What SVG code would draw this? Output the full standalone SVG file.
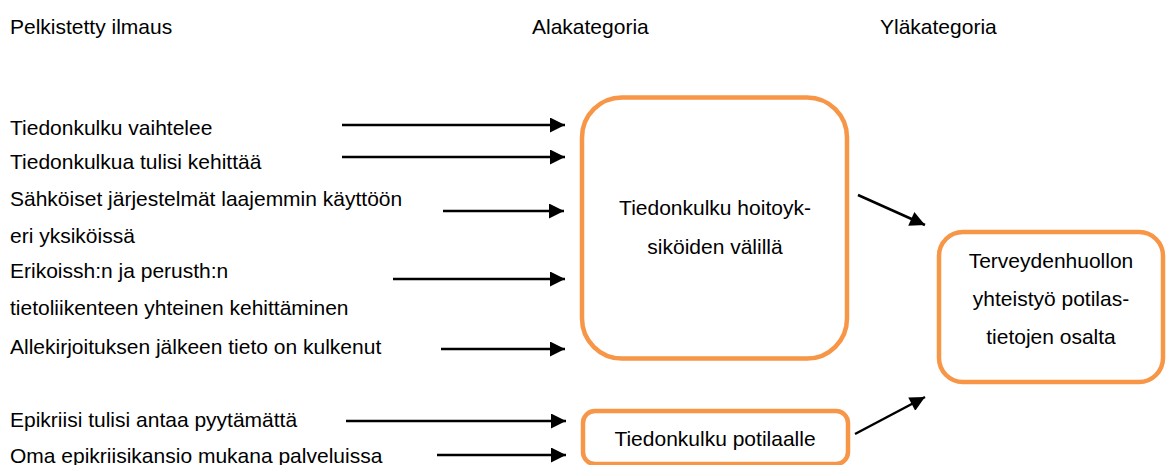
<svg xmlns="http://www.w3.org/2000/svg" width="1166" height="465" viewBox="0 0 1166 465">
<defs>
<style>
text{font-family:"Liberation Sans",Arial,sans-serif;font-size:21px;fill:#000}
.c{text-anchor:middle}
.box{fill:#fff;stroke:#F79646;stroke-width:4.5}
.ln{stroke:#000;stroke-width:2.5;fill:none}
</style>
<marker id="ah" viewBox="0 0 10 10" refX="10" refY="5" markerWidth="7" markerHeight="6" markerUnits="strokeWidth" orient="auto">
<path d="M0,0 L10,5 L0,10 z" fill="#000"/>
</marker>
</defs>
<rect width="1166" height="465" fill="#fff"/>
<g id="headers">
<text x="10" y="34">Pelkistetty ilmaus</text>
<text x="532" y="34">Alakategoria</text>
<text x="880" y="34">Yläkategoria</text>
</g>
<g id="expressions">
<text x="10" y="135">Tiedonkulku vaihtelee</text>
<text x="10" y="169">Tiedonkulkua tulisi kehittää</text>
<text x="10" y="206">Sähköiset järjestelmät laajemmin käyttöön</text>
<text x="10" y="243">eri yksiköissä</text>
<text x="10" y="278">Erikoissh:n ja perusth:n</text>
<text x="10" y="315">tietoliikenteen yhteinen kehittäminen</text>
<text x="10" y="354">Allekirjoituksen jälkeen tieto on kulkenut</text>
<text x="10" y="427">Epikriisi tulisi antaa pyytämättä</text>
<text x="10" y="463">Oma epikriisikansio mukana palveluissa</text>
</g>
<g id="node-hoitoyksikot">
<rect class="box" x="582" y="97.5" width="265" height="261" rx="40"/>
<text class="c" x="715" y="215">Tiedonkulku hoitoyk-</text>
<text class="c" x="715" y="254">siköiden välillä</text>
</g>
<g id="node-potilaalle">
<rect class="box" x="583" y="411" width="265" height="53" rx="12"/>
<text class="c" x="715" y="446">Tiedonkulku potilaalle</text>
</g>
<g id="node-ylakategoria">
<rect class="box" x="939" y="232" width="224" height="150" rx="24"/>
<text class="c" x="1051" y="268">Terveydenhuollon</text>
<text class="c" x="1051" y="306">yhteistyö potilas-</text>
<text class="c" x="1051" y="344">tietojen osalta</text>
</g>
<g id="connectors">
<line class="ln" x1="342" y1="125" x2="565" y2="125" marker-end="url(#ah)"/>
<line class="ln" x1="342" y1="157" x2="565" y2="157" marker-end="url(#ah)"/>
<line class="ln" x1="443" y1="211" x2="564" y2="211" marker-end="url(#ah)"/>
<line class="ln" x1="393" y1="279" x2="565" y2="279" marker-end="url(#ah)"/>
<line class="ln" x1="441" y1="349" x2="565" y2="349" marker-end="url(#ah)"/>
<line class="ln" x1="346" y1="421" x2="566" y2="421" marker-end="url(#ah)"/>
<line class="ln" x1="437" y1="455" x2="566" y2="455" marker-end="url(#ah)"/>
<line class="ln" x1="858" y1="195" x2="925" y2="225" marker-end="url(#ah)"/>
<line class="ln" x1="855" y1="434" x2="925" y2="397" marker-end="url(#ah)"/>
</g>
</svg>
